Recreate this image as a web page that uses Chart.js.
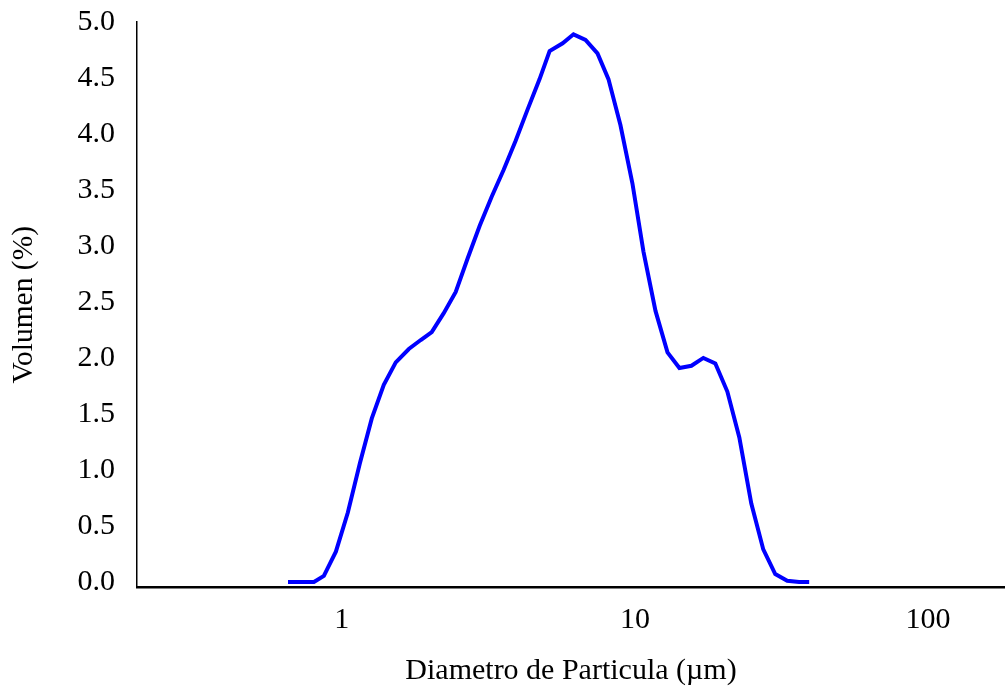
<!DOCTYPE html>
<html>
<head>
<meta charset="utf-8">
<script src="https://cdn.jsdelivr.net/npm/chart.js@4.4.1/dist/chart.umd.min.js"></script>
<style>
  html, body { margin: 0; padding: 0; background: #ffffff; }
  #wrap { width: 1005px; height: 690px; position: relative; }
</style>
</head>
<body>
<div id="wrap"><canvas id="c"></canvas></div>
<script>
// Particle diameter (µm)
const diameters = [0.655, 0.725, 0.803, 0.868, 0.954, 1.048, 1.152, 1.265, 1.390, 1.527,
  1.692, 1.858, 2.026, 2.226, 2.446, 2.687, 2.953, 3.244, 3.565, 3.916,
  4.303, 4.727, 5.114, 5.665, 6.17, 6.78, 7.45, 8.12, 8.92, 9.80,
  10.69, 11.75, 12.91, 14.18, 15.58, 17.11, 18.80, 20.66, 22.70, 24.94,
  27.40, 30.10, 33.07, 36.3, 39.3];
// Volume (%)
const volumes = [0.0, 0.0, 0.0, 0.054, 0.27, 0.62, 1.06, 1.46, 1.76, 1.96,
  2.08, 2.16, 2.23, 2.40, 2.59, 2.89, 3.18, 3.44, 3.68, 3.94,
  4.22, 4.49, 4.74, 4.81, 4.89, 4.84, 4.72, 4.49, 4.08, 3.56,
  2.95, 2.42, 2.05, 1.91, 1.93, 2.00, 1.95, 1.70, 1.29, 0.70,
  0.29, 0.07, 0.01, 0.0, 0.0];
const xTickValues = [1, 10, 100];
const yTickValues = [0, 0.5, 1.0, 1.5, 2.0, 2.5, 3.0, 3.5, 4.0, 4.5, 5.0];
const xTitle = 'Diametro de Particula (µm)';
const yTitle = 'Volumen (%)';

const points = diameters.map((d, i) => ({ x: d, y: volumes[i] }));
const fontFamily = '"Liberation Serif", "Times New Roman", serif';

new Chart(document.getElementById('c'), {
  type: 'line',
  data: {
    datasets: [{
      data: points,
      borderColor: '#0000ff',
      borderWidth: 4,
      pointRadius: 0,
      tension: 0,
      fill: false
    }]
  },
  options: {
    responsive: true,
    maintainAspectRatio: false,
    animation: false,
    layout: { padding: { top: 22, right: 0, left: 0, bottom: 0 } },
    plugins: { legend: { display: false }, tooltip: { enabled: false } },
    scales: {
      x: {
        type: 'logarithmic',
        min: 0.2,
        max: 183,
        grid: { display: false, drawTicks: false },
        border: { display: true, color: '#000000', width: 2.5 },
        afterBuildTicks: (scale) => { scale.ticks = xTickValues.map(v => ({ value: v })); },
        afterFit: (scale) => { scale.height = 102.5; scale.paddingLeft = 0; scale.paddingRight = 0; },
        ticks: {
          color: '#000000',
          font: { family: fontFamily, size: 30 },
          padding: 15,
          autoSkip: false,
          maxRotation: 0,
          callback: (v) => String(v)
        },
        title: {
          display: true,
          text: xTitle,
          color: '#000000',
          font: { family: fontFamily, size: 30 },
          padding: { top: 4, bottom: 1 }
        }
      },
      y: {
        min: -0.05,
        max: 5,
        grid: { display: false, drawTicks: false },
        border: { display: true, color: '#000000', width: 1.5 },
        afterBuildTicks: (scale) => { scale.ticks = yTickValues.map(v => ({ value: v })); },
        afterFit: (scale) => { scale.width = 137; scale.paddingTop = 0; scale.paddingBottom = 0; },
        ticks: {
          color: '#000000',
          font: { family: fontFamily, size: 30 },
          padding: 22,
          callback: (v) => Number(v).toFixed(1)
        },
        title: {
          display: true,
          text: yTitle,
          color: '#000000',
          font: { family: fontFamily, size: 29.5 },
          padding: { top: 7, bottom: 4 }
        }
      }
    }
  }
});
</script>
</body>
</html>
